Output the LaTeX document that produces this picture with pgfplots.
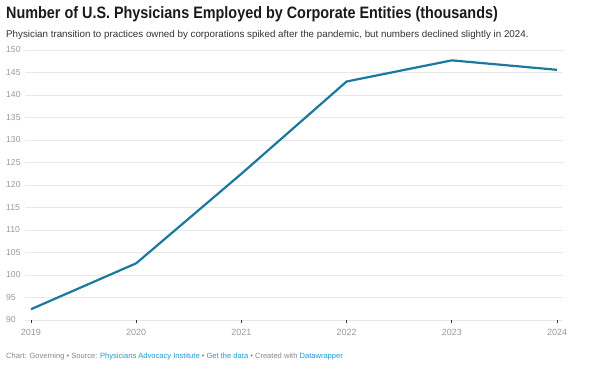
\documentclass[border=0pt]{standalone}
\usepackage{pgfplots}
\pgfplotsset{compat=1.18}
\usepackage{fontspec}
\setmainfont{Liberation Sans}
\definecolor{lineblue}{HTML}{1A7A9E}
\definecolor{titlec}{HTML}{1A1A1A}
\definecolor{subc}{HTML}{333333}
\definecolor{tickc}{HTML}{9A9A9A}
\definecolor{gridc}{HTML}{E8E8E8}
\definecolor{footc}{HTML}{888888}
\definecolor{linkc}{HTML}{1D9BD6}
\begin{document}
\begin{tikzpicture}[x=1pt,y=1pt]
\useasboundingbox[fill=white] (0,0) rectangle (600,-368);
\node[anchor=base west, inner sep=0, text=titlec] at (6,-18) {\scalebox{0.872}[1]{\fontsize{16.5}{18}\selectfont\bfseries Number of U.S. Physicians Employed by Corporate Entities (thousands)}};
\node[anchor=base west, inner sep=0, text=subc] at (6,-37) {\fontsize{9.79}{11}\selectfont Physician transition to practices owned by corporations spiked after the pandemic, but numbers declined slightly in 2024.};
\node[anchor=base west, inner sep=0, text=footc] at (6,-358) {\fontsize{7.56}{9}\selectfont Chart: Governing \textbullet{} Source: \textcolor{linkc}{Physicians Advocacy Institute} \textbullet{} \textcolor{linkc}{Get the data} \textbullet{} Created with \textcolor{linkc}{Datawrapper}};
\begin{axis}[
  at={(25pt,-320pt)}, anchor=south west,
  scale only axis, width=538pt, height=270pt,
  xmin=2018.943, xmax=2024.057,
  ymin=90, ymax=150,
  axis line style={draw=none},
  xtick={2019,2020,2021,2022,2023,2024},
  ytick={90,95,...,150},
  xticklabel style={/pgf/number format/1000 sep=, text=tickc, font=\fontsize{9}{10}\selectfont, yshift=-3pt},
  yticklabel style={anchor=west, inner sep=0pt, xshift=-19pt, text=tickc, font=\fontsize{8.6}{10}\selectfont},
  /pgf/number format/assume math mode=true,
  ymajorgrids, grid style={gridc, line width=0.7pt},
  major y tick style={draw=none},
  major x tick style={black!80, line width=0.8pt},
  xtick pos=bottom, xtick align=outside,
  major tick length=3pt,
  clip=false,
]
\addplot[lineblue, line width=2.2pt, line join=round] coordinates {
 (2019,92.4) (2020,102.6) (2021,122.5) (2022,143.0) (2023,147.7) (2024,145.6)
};
\end{axis}
\end{tikzpicture}
\end{document}
